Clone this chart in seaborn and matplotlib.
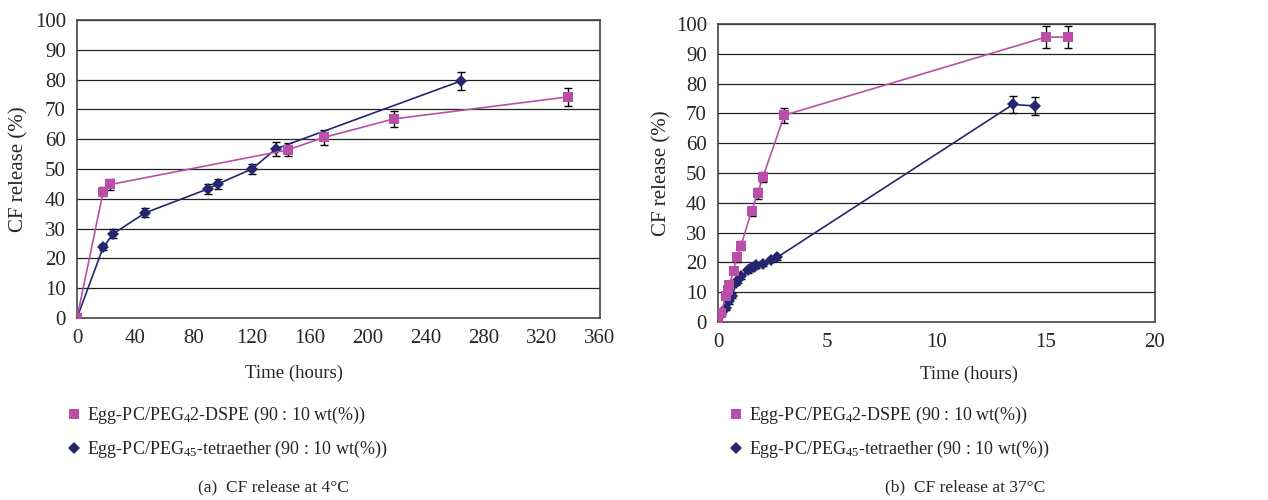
import numpy as np
import pandas as pd
import matplotlib
matplotlib.use("Agg")
import matplotlib.pyplot as plt
from matplotlib.lines import Line2D
import seaborn as sns

# Data
# (a) 4 C
t4_dspe = [0, 18, 23, 145, 170, 218, 338]
y4_dspe = [0, 42.3, 44.8, 56.4, 60.6, 66.8, 74.2]
e4_dspe = [0, 1.5, 1.8, 2.2, 2.5, 2.8, 3.0]

t4_tetra = [0, 18, 25, 47, 90, 97, 120.5, 137, 264]
y4_tetra = [0, 23.7, 28.3, 35.3, 43.3, 45.0, 50.0, 56.8, 79.5]
e4_tetra = [0, 1.0, 1.5, 1.5, 1.8, 1.8, 1.8, 2.3, 3.0]

# (b) 37 C
t37_dspe = [0, 0.15, 0.35, 0.45, 0.52, 0.72, 0.85, 1.05, 1.54, 1.82, 2.06, 3.04, 15, 16]
y37_dspe = [0, 2.9, 8.8, 10.7, 12.4, 17.2, 21.8, 25.6, 37.2, 43.2, 48.7, 69.4, 95.6, 95.6]
e37_dspe = [0, 0.8, 1.0, 1.0, 1.0, 1.2, 1.5, 1.5, 1.5, 1.8, 1.8, 2.5, 3.7, 3.7]

t37_tetra = [0, 0.15, 0.37, 0.5, 0.65, 0.84, 0.92, 1.05, 1.39, 1.5, 1.65, 1.75, 2.06, 2.45, 2.71, 13.5, 14.5]
y37_tetra = [0, 2.5, 4.6, 7.0, 8.8, 13.2, 14.0, 15.3, 17.4, 18.0, 18.6, 19.0, 19.6, 20.8, 21.7, 73.0, 72.5]
e37_tetra = [0, 0.5, 0.5, 0.8, 0.8, 0.8, 0.8, 0.8, 0.8, 0.8, 0.8, 0.8, 0.8, 0.8, 0.8, 3.0, 3.0]

label_dspe = r"Egg-PC/PEG$_4$2-DSPE (90 : 10 wt(%))"
label_tetra = r"Egg-PC/PEG$_{45}$-tetraether (90 : 10 wt(%))"

pink = "#B94FA8"
navy = "#24266F"

sns.set_style("white")
plt.rcParams["font.family"] = ["Liberation Serif", "DejaVu Serif"]
plt.rcParams["mathtext.fontset"] = "custom"
plt.rcParams["mathtext.rm"] = "Liberation Serif"
plt.rcParams["mathtext.it"] = "Liberation Serif:italic"

fig = plt.figure(figsize=(12.68, 5), dpi=100)
ax1 = fig.add_axes([0.0607, 0.364, 0.4125, 0.596])
ax2 = fig.add_axes([0.5662, 0.356, 0.3446, 0.596])


def draw(ax, t1, y1, e1, t2, y2, e2, xmax, xstep):
    d1 = pd.DataFrame({"t": t1, "y": y1})
    d2 = pd.DataFrame({"t": t2, "y": y2})
    for yv in range(10, 101, 10):
        ax.axhline(yv, color="#222222", lw=0.9, zorder=0)
    ax.errorbar(t2, y2, yerr=e2, fmt="none", ecolor="black", elinewidth=1.0,
                capsize=3, capthick=1.0, zorder=2)
    ax.errorbar(t1, y1, yerr=e1, fmt="none", ecolor="black", elinewidth=1.0,
                capsize=3, capthick=1.0, zorder=2)
    sns.lineplot(data=d2, x="t", y="y", ax=ax, color=navy, lw=1.2,
                 marker="D", markersize=6, markeredgewidth=0,
                 markerfacecolor=navy, zorder=3)
    sns.lineplot(data=d1, x="t", y="y", ax=ax, color=pink, lw=1.2,
                 marker="s", markersize=7, markeredgewidth=0,
                 markerfacecolor=pink, zorder=4)
    ax.set_xlim(0, xmax)
    ax.set_ylim(0, 100)
    ax.set_xticks(np.arange(0, xmax + 0.001, xstep))
    ax.set_yticks(range(0, 101, 10))
    ax.tick_params(axis="both", labelsize=15, direction="out", length=5,
                   width=1, color="#333333", pad=3)
    ax.tick_params(axis="y", length=4, pad=4)
    for s in ax.spines.values():
        s.set_color("#444444")
        s.set_linewidth(1.2)
    ax.set_xlabel("Time (hours)", fontsize=13.5)
    ax.set_ylabel("CF release (%)", fontsize=15)


draw(ax1, t4_dspe, y4_dspe, e4_dspe, t4_tetra, y4_tetra, e4_tetra, 360, 40)
draw(ax2, t37_dspe, y37_dspe, e37_dspe, t37_tetra, y37_tetra, e37_tetra, 20, 5)

ax1.xaxis.set_label_coords(0.415, -0.155)
ax2.xaxis.set_label_coords(0.574, -0.145)
ax1.yaxis.set_label_coords(-0.093, 0.5)
ax2.yaxis.set_label_coords(-0.107, 0.5)

handles = [
    Line2D([], [], ls="none", marker="s", markersize=7, color=pink, markeredgewidth=0),
    Line2D([], [], ls="none", marker="D", markersize=6, color=navy, markeredgewidth=0),
]
for ax, xl in [(ax1, 58 / 1268), (ax2, 720 / 1268)]:
    ax.legend(handles, [label_dspe, label_tetra], loc="upper left",
              bbox_to_anchor=(xl, 1 - 398 / 500), bbox_transform=fig.transFigure,
              frameon=False, fontsize=13, handlelength=1.0, handletextpad=0.2,
              labelspacing=0.7, borderaxespad=0)

fig.text(273 / 1268, 1 - 487 / 500, "(a)  CF release at 4°C", ha="center",
         va="center", fontsize=12.5)
fig.text(965 / 1268, 1 - 487 / 500, "(b)  CF release at 37°C", ha="center",
         va="center", fontsize=12.5)

fig.savefig("out.png", dpi=100)
